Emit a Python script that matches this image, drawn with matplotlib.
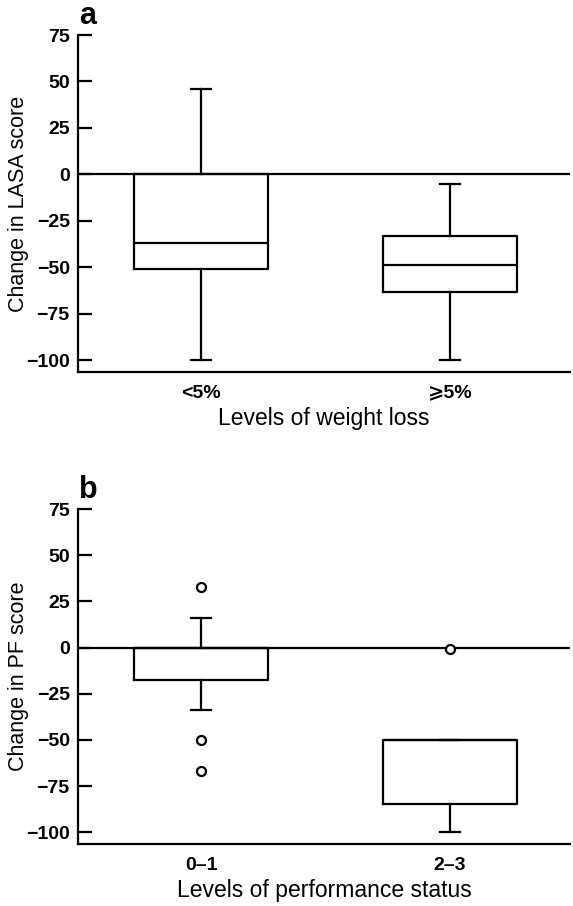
import matplotlib.pyplot as plt

plt.rcParams['font.family'] = ['Liberation Sans', 'DejaVu Sans']

# Panel a: change in LASA score by level of weight loss
weight_labels = ['<5%', '\u2a7e5%']
lasa_whislo = [-100, -100]
lasa_q1 = [-51, -63]
lasa_med = [-37, -49]
lasa_q3 = [0, -33]
lasa_whishi = [46, -5]
lasa_fliers = [[], []]

# Panel b: change in PF score by performance status
status_labels = ['0\u20131', '2\u20133']
pf_whislo = [-34, -100]
pf_q1 = [-17.5, -84.5]
pf_med = [0, -50]
pf_q3 = [0, -50]
pf_whishi = [16, -50]
pf_fliers = [[33, -50, -67], [-1]]

yticks = [75, 50, 25, 0, -25, -50, -75, -100]

W, H = 573, 906
fig = plt.figure(figsize=(W / 100, H / 100), dpi=100)


def make_stats(labels, lo, q1, med, q3, hi, fl):
    stats = []
    for i in range(len(labels)):
        stats.append(dict(label=labels[i], whislo=lo[i], q1=q1[i], med=med[i],
                          q3=q3[i], whishi=hi[i], fliers=fl[i]))
    return stats


def panel(top_px, bot_px, stats, ylabel, xlabel, letter):
    ax = fig.add_axes([78 / W, 1 - bot_px / H, (570 - 78) / W, (bot_px - top_px) / H])
    ax.axhline(0, color='black', lw=1.6, zorder=1)
    ax.bxp(stats, positions=[1, 2], widths=0.54, capwidths=0.08,
           boxprops=dict(color='black', lw=1.6),
           medianprops=dict(color='black', lw=1.6),
           whiskerprops=dict(color='black', lw=1.6),
           capprops=dict(color='black', lw=1.6),
           flierprops=dict(marker='o', markerfacecolor='white', markeredgecolor='black',
                           markersize=6.5, markeredgewidth=1.6))
    ax.set_xlim(0.506, 2.482)
    ax.set_ylim(-106.3, 75)
    ax.set_yticks(yticks)
    ax.set_yticklabels(['\u2212' + str(-t) if t < 0 else str(t) for t in yticks])
    ax.spines[['top', 'right']].set_visible(False)
    for s in ['left', 'bottom']:
        ax.spines[s].set_linewidth(1.6)
    ax.tick_params(axis='y', direction='in', length=10, width=1.6, pad=6, labelsize=14)
    ax.tick_params(axis='x', length=0, pad=9, labelsize=14)
    for t in ax.get_xticklabels() + ax.get_yticklabels():
        t.set_fontweight('bold')
    ax.set_ylabel(ylabel, fontsize=15.5)
    ax.yaxis.set_label_coords(-0.10, 0.5)
    ax.set_xlabel(xlabel, fontsize=16.5, labelpad=4)
    fig.text(79 / W, 1 - (top_px - 11) / H, letter, fontsize=22, fontweight='bold',
             ha='left', va='baseline')
    return ax


panel(35, 372, make_stats(weight_labels, lasa_whislo, lasa_q1, lasa_med, lasa_q3,
                          lasa_whishi, lasa_fliers),
      'Change in LASA score', 'Levels of weight loss', 'a')
panel(509, 844, make_stats(status_labels, pf_whislo, pf_q1, pf_med, pf_q3,
                           pf_whishi, pf_fliers),
      'Change in PF score', 'Levels of performance status', 'b')

fig.savefig('out.png', dpi=100)
